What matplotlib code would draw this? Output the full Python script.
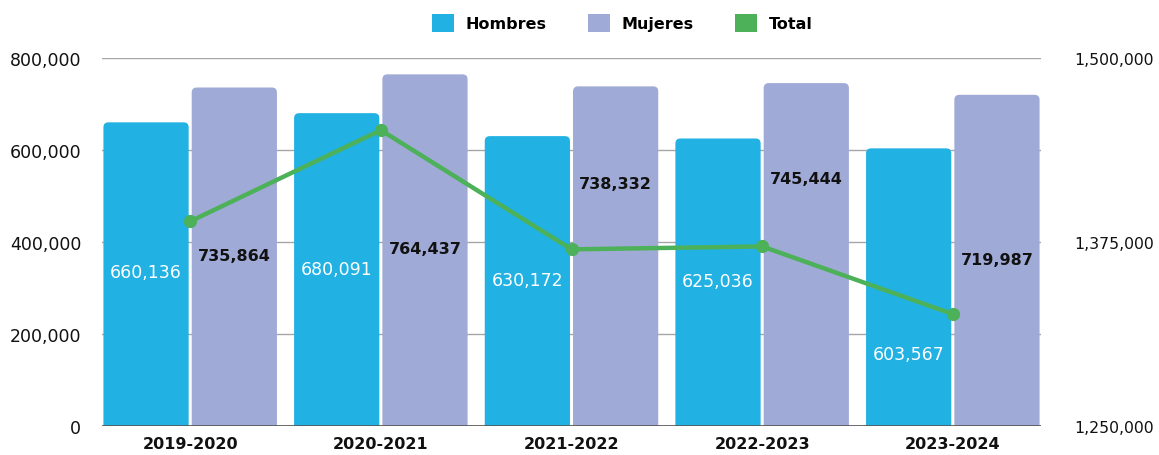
import matplotlib
matplotlib.use("Agg")
import matplotlib.pyplot as plt
from matplotlib.patches import Patch, FancyBboxPatch
from matplotlib.ticker import FuncFormatter, FixedLocator
import numpy as np

# ---- data ----
categories = ["2019-2020", "2020-2021", "2021-2022", "2022-2023", "2023-2024"]
hombres = [660136, 680091, 630172, 625036, 603567]
mujeres = [735864, 764437, 738332, 745444, 719987]
total = [1389000, 1451000, 1370000, 1372000, 1326000]
left_ticks = [0, 200000, 400000, 600000, 800000]
right_ticks = [1250000, 1375000, 1500000]

# label placement (left-axis units)
hombres_label_y = [335000, 341000, 317000, 315000, 157000]
mujeres_label_y = [370000, 385000, 528000, 537000, 361000]

C_H = "#21B1E3"
C_M = "#A0AAD6"
C_T = "#4CB158"
FONT = "DejaVu Sans"

plt.rcParams["font.family"] = [FONT]

W, H = 1159, 456
fig = plt.figure(figsize=(W / 100, H / 100), dpi=100)
ax = fig.add_axes([102 / W, 1 - 427 / H, (1041 - 102) / W, (427 - 59) / H])
ax2 = ax.twinx()

x = np.arange(len(categories))
bw = 0.447
off = 0.2315

ax.set_xlim(-0.4625, len(categories) - 1 + 0.4625)
ax.set_ylim(0, 800000)
ax2.set_ylim(1250000, 1500000)

bars_h = ax.bar(x - off, hombres, bw, color=C_H, zorder=2)
bars_m = ax.bar(x + off, mujeres, bw, color=C_M, zorder=2)

# rounded top corners
rx = 5 / 190.0
ry = 5 / 368.0 * 800000
for bars, col in ((bars_h, C_H), (bars_m, C_M)):
    for b in bars:
        b.set_visible(False)
        x0, w, h = b.get_x(), b.get_width(), b.get_height()
        p = FancyBboxPatch((x0 + rx, -3 * ry), w - 2 * rx, h + 3 * ry - ry,
                           boxstyle=f"round,pad={rx}",
                           mutation_aspect=ry / rx,
                           facecolor=col, edgecolor="none", zorder=2,
                           clip_on=True)
        ax.add_patch(p)

# grid
ax.set_yticks(left_ticks)
ax.yaxis.grid(True, color="#A6A6A6", linewidth=1.0, zorder=0)
ax.set_axisbelow(True)
ax.axhline(0, color="#555555", linewidth=1.2, zorder=3)
for s in ax.spines.values():
    s.set_visible(False)
for s in ax2.spines.values():
    s.set_visible(False)

fmt = FuncFormatter(lambda v, p: f"{int(v):,}")
ax.yaxis.set_major_formatter(fmt)
ax.tick_params(axis="y", length=0, pad=15, labelsize=12.5, labelcolor="#111111")

ax2.yaxis.set_major_locator(FixedLocator(right_ticks))
ax2.yaxis.set_major_formatter(fmt)
ax2.tick_params(axis="y", length=0, pad=24, labelsize=11.3, labelcolor="#111111")

ax.set_xticks(x)
ax.set_xticklabels(categories, fontsize=11.5, fontweight="bold", color="#111111")
ax.tick_params(axis="x", length=0, pad=7)

# line on right axis
ax2.plot(x, total, color=C_T, linewidth=3.2, marker="o", markersize=8.5,
         zorder=5, solid_capstyle="round")
ax2.set_zorder(ax.get_zorder() + 1)
ax2.patch.set_visible(False)

# value labels
for i in range(len(categories)):
    ax.text(x[i] - off, hombres_label_y[i], f"{hombres[i]:,}", ha="center", va="center",
            color="white", fontsize=12.5, zorder=6)
    ax.text(x[i] + off, mujeres_label_y[i], f"{mujeres[i]:,}", ha="center", va="center",
            color="#111111", fontsize=11.5, fontweight="bold", zorder=6)

# legend
handles = [Patch(facecolor=C_H, label="Hombres"),
           Patch(facecolor=C_M, label="Mujeres"),
           Patch(facecolor=C_T, label="Total")]
leg = fig.legend(handles=handles, loc="center", bbox_to_anchor=(622 / W, 1 - 24 / H),
                 ncol=3, frameon=False, handlelength=1.4, handleheight=1.4,
                 handletextpad=0.7, columnspacing=2.6,
                 prop={"family": FONT, "weight": "bold", "size": 11.5})

fig.savefig("out.png", dpi=100)
